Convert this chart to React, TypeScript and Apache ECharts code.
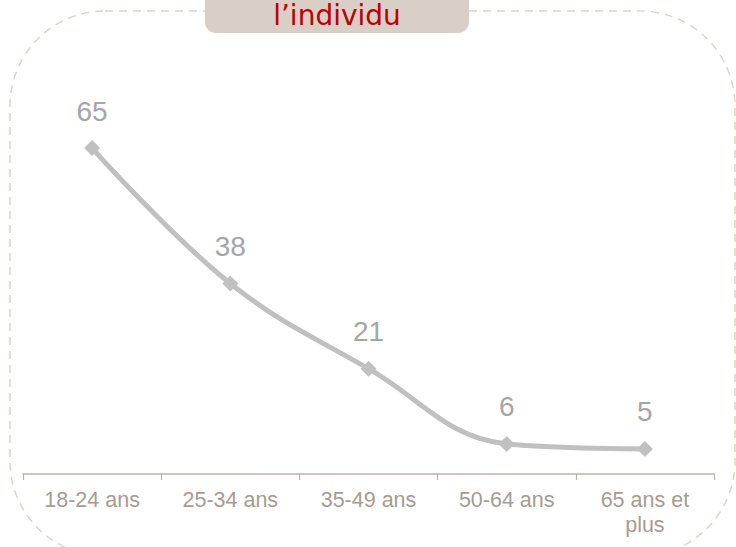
import React, { useEffect, useRef } from "react";
import * as echarts from "echarts";

const categories = ["18-24 ans", "25-34 ans", "35-49 ans", "50-64 ans", "65 ans et\nplus"];
const values = [65, 38, 21, 6, 5];
const titleText = "l\u2019individu";

export default function App() {
  const ref = useRef<HTMLDivElement>(null);
  useEffect(() => {
    if (!ref.current) return;
    const chart = echarts.init(ref.current, undefined, { renderer: "svg" });
    chart.setOption({
      animation: false,
      backgroundColor: "#ffffff",
      grid: { left: 23, right: 22, top: 123, bottom: 73, containLabel: false },
      xAxis: {
        type: "category",
        data: categories,
        boundaryGap: true,
        axisLine: { show: true, lineStyle: { color: "#bfb2a8", width: 1.5 } },
        axisTick: { show: true, length: 6, lineStyle: { color: "#bfb2a8", width: 1.2 } },
        axisLabel: {
          interval: 0,
          color: "#a89b91",
          fontSize: 21.5,
          lineHeight: 25,
          margin: 13,
          fontFamily: "Liberation Sans, Arial, sans-serif",
        },
      },
      yAxis: { type: "value", min: 0, max: 70, show: false, splitLine: { show: false } },
      graphic: [
        {
          type: "rect",
          z: 0,
          silent: true,
          shape: { x: 10, y: 11, width: 725, height: 545, r: 95 },
          style: { fill: "none", stroke: "#ddd5cc", lineWidth: 1.5, lineDash: [8, 6] },
        },
        {
          type: "rect",
          z: 10,
          silent: true,
          shape: { x: 205, y: -12, width: 264, height: 45, r: 11 },
          style: { fill: "#d9cfc6" },
        },
        {
          type: "text",
          z: 11,
          silent: true,
          x: 337,
          y: 15,
          style: {
            text: titleText,
            fill: "#c00000",
            fontSize: 28,
            fontWeight: "normal",
            fontFamily: "DejaVu Sans, Verdana, sans-serif",
            align: "center",
            verticalAlign: "middle",
          },
        },
      ],
      series: [
        {
          type: "line",
          data: values,
          smooth: 0.4,
          symbol: "diamond",
          symbolSize: 16,
          lineStyle: { color: "#c0c0c0", width: 5 },
          itemStyle: { color: "#c0c0c0" },
          label: {
            show: true,
            position: "top",
            distance: 15,
            color: "#a6a6a6",
            fontSize: 28,
            fontFamily: "Liberation Sans, Arial, sans-serif",
          },
        },
      ],
    });
    return () => chart.dispose();
  }, []);
  return (
    <div
      ref={ref}
      style={{ position: "fixed", left: 0, top: 0, width: 736, height: 547 }}
    />
  );
}
